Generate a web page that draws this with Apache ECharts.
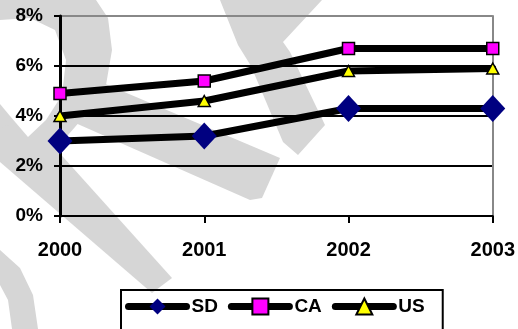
<!DOCTYPE html>
<html>
<head>
<meta charset="utf-8">
<script src="https://cdn.jsdelivr.net/npm/echarts@6/dist/echarts.min.js"></script>
<style>
  html, body { margin: 0; padding: 0; background: #fff; }
  #chart { width: 518px; height: 329px; }
</style>
</head>
<body>
<div id="chart"></div>
<script>
// Unemployment-style rates by year, in percent
const years = ['2000', '2001', '2002', '2003'];
const sdValues = [3.0, 3.2, 4.3, 4.3];
const caValues = [4.9, 5.4, 6.7, 6.7];
const usValues = [4.0, 4.6, 5.8, 5.9];
const seriesNames = ['SD', 'CA', 'US'];
const yTicks = [0, 2, 4, 6, 8];

const FONT = 'Arial, "Liberation Sans", sans-serif';
const SHADE = '#d6d6d6';

const chart = echarts.init(document.getElementById('chart'), null, { renderer: 'canvas' });

// faint background lettering
const shade = (points) => ({
  type: 'polygon', z: -10, silent: true,
  shape: { points: points },
  style: { fill: SHADE }
});

chart.setOption({
  animation: false,
  backgroundColor: '#fff',
  graphic: [
    shade([[0,0],[96,0],[108,18],[112,50],[106,85],[88,112],[62,142],[48,160],[0,162]]),
    {
      type: 'polygon', z: -9, silent: true,
      shape: { points: [[0,20],[30,18],[55,30],[66,60],[62,95],[46,120],[28,137],[10,116],[0,104]] },
      style: { fill: '#fff' }
    },
    shade([[28,118],[172,278],[152,293],[0,162],[0,128]]),
    shade([[64,118],[96,80],[280,158],[262,198],[250,200]]),
    shade([[220,0],[322,0],[283,42],[290,52],[325,125],[298,155],[283,142],[251,66],[238,45]]),
    shade([[0,250],[20,268],[33,295],[38,329],[12,329],[8,300],[0,285]])
  ],
  grid: { left: 60, right: 24, top: 16, bottom: 113, containLabel: false },
  xAxis: {
    type: 'category',
    data: years,
    boundaryGap: false,
    axisLine: { lineStyle: { color: '#000', width: 2 } },
    axisTick: { show: true, length: 7, lineStyle: { color: '#000', width: 2 } },
    axisLabel: { color: '#000', fontFamily: FONT, fontWeight: 'bold', fontSize: 20, margin: 24 },
    splitLine: { show: false }
  },
  yAxis: [{
    type: 'value',
    min: yTicks[0],
    max: yTicks[yTicks.length - 1],
    interval: 2,
    axisLine: { show: true, lineStyle: { color: '#000', width: 3 } },
    axisTick: { show: true, length: 6, lineStyle: { color: '#000', width: 2 } },
    axisLabel: { color: '#000', fontFamily: FONT, fontWeight: 'bold', fontSize: 19, margin: 17,
                 formatter: '{value}%' },
    splitLine: { show: true, lineStyle: { color: ['#000', '#000', '#000', '#000', '#888'], width: 2 } }
  }, {
    type: 'value',
    position: 'right',
    min: yTicks[0],
    max: yTicks[yTicks.length - 1],
    interval: 2,
    axisLine: { show: true, lineStyle: { color: '#888', width: 2 } },
    axisTick: { show: false },
    axisLabel: { show: false },
    splitLine: { show: false }
  }],
  legend: {
    data: seriesNames,
    left: 121,
    top: 290,
    orient: 'horizontal',
    borderColor: '#000',
    borderWidth: 2,
    padding: [7, 18, 20, 4],
    itemWidth: 58,
    itemHeight: 20,
    itemGap: 10,
    lineStyle: { width: 7, color: '#000', cap: 'round' },
    textStyle: { color: '#000', fontFamily: FONT, fontWeight: 'bold', fontSize: 19 }
  },
  series: [
    {
      name: seriesNames[0], type: 'line', data: sdValues, z: 3,
      symbol: 'diamond', symbolSize: [25, 27],
      itemStyle: { color: '#000080', borderWidth: 0 },
      lineStyle: { color: '#000', width: 7, cap: 'round', join: 'round' }
    },
    {
      name: seriesNames[1], type: 'line', data: caValues, z: 4,
      symbol: 'rect', symbolSize: 12,
      itemStyle: { color: '#ff00ff', borderColor: '#000', borderWidth: 1.5 },
      lineStyle: { color: '#000', width: 7, cap: 'round', join: 'round' }
    },
    {
      name: seriesNames[2], type: 'line', data: usValues, z: 5,
      symbol: 'triangle', symbolSize: [12, 11],
      itemStyle: { color: '#ffff00', borderColor: '#000', borderWidth: 1.5 },
      lineStyle: { color: '#000', width: 7, cap: 'round', join: 'round' }
    }
  ]
});
</script>
</body>
</html>
